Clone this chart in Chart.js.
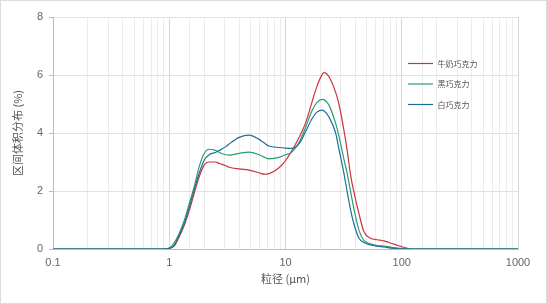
<!DOCTYPE html>
<html>
<head>
<meta charset="utf-8">
<script src="https://cdn.jsdelivr.net/npm/chart.js@4"></script>
<style>
  html, body { margin: 0; padding: 0; background: #fff; }
  #wrap { position: relative; width: 547px; height: 304px; }
  canvas { display: block; }
</style>
</head>
<body>
<div id="wrap"><canvas id="c" width="547" height="304"></canvas></div>
<script>
// Particle size (µm)
const sizes = [0.1, 0.5, 0.9, 1.0, 1.1, 1.22, 1.35, 1.49, 1.64, 1.81, 2.0, 2.2, 2.5, 2.7, 3.07, 3.27, 4.0, 4.86, 5.92, 6.54, 7.22, 8.8, 10.0, 11.4, 13.1, 14.9, 17.0, 18.6, 20.7, 21.4, 23.6, 27.0, 28.8, 31.8, 33.9, 36.3, 38.7, 42.8, 47.2, 53.9, 61.4, 70, 85.4, 104, 122, 200, 1000];
// 牛奶巧克力
const milk  = [0, 0, 0, 0.02, 0.10, 0.43, 0.83, 1.34, 1.92, 2.49, 2.90, 3.00, 3.00, 2.95, 2.87, 2.82, 2.76, 2.72, 2.63, 2.58, 2.60, 2.80, 3.05, 3.40, 3.85, 4.35, 5.10, 5.60, 6.02, 6.08, 5.95, 5.40, 5.00, 4.10, 3.41, 2.55, 1.98, 1.23, 0.60, 0.37, 0.32, 0.28, 0.17, 0.06, 0, 0, 0];
// 黑巧克力
const dark  = [0, 0, 0, 0.03, 0.20, 0.54, 1.00, 1.58, 2.15, 2.84, 3.30, 3.44, 3.40, 3.33, 3.25, 3.24, 3.30, 3.34, 3.25, 3.17, 3.11, 3.16, 3.25, 3.35, 3.68, 4.20, 4.79, 5.05, 5.16, 5.15, 4.97, 4.33, 3.90, 3.10, 2.61, 1.98, 1.40, 0.65, 0.30, 0.18, 0.12, 0.10, 0.05, 0.01, 0, 0, 0];
// 白巧克力
const white = [0, 0, 0, 0.02, 0.12, 0.48, 0.90, 1.45, 2.05, 2.61, 3.07, 3.25, 3.33, 3.40, 3.53, 3.62, 3.85, 3.93, 3.78, 3.66, 3.55, 3.50, 3.48, 3.47, 3.63, 4.05, 4.51, 4.72, 4.79, 4.77, 4.56, 4.00, 3.45, 2.61, 1.98, 1.35, 0.88, 0.38, 0.22, 0.14, 0.10, 0.07, 0.02, 0, 0, 0, 0];

const seriesNames = ['牛奶巧克力', '黑巧克力', '白巧克力'];
const seriesColors = ['#cc3340', '#2a9d6e', '#1f6e9a'];
const xTickLabels = ['0.1', '1', '10', '100', '1000'];
const yTicks = [0, 2, 4, 6, 8];

const toPts = arr => sizes.map((s, i) => ({ x: s, y: arr[i] }));
const allSeries = [milk, dark, white];

const isPow10 = v => Math.abs(Math.log10(v) - Math.round(Math.log10(v))) < 1e-6;

const legendPlugin = {
  id: 'customLegend',
  afterDatasetsDraw(chart) {
    const ctx = chart.ctx;
    ctx.save();
    const ys = [63.5, 84, 104.5];
    chart.data.datasets.forEach((ds, i) => {
      ctx.strokeStyle = ds.borderColor;
      ctx.lineWidth = 1.2;
      ctx.beginPath();
      ctx.moveTo(408, ys[i]);
      ctx.lineTo(433, ys[i]);
      ctx.stroke();
      ctx.fillStyle = '#555';
      ctx.font = '8px "Noto Sans CJK SC", sans-serif';
      ctx.textBaseline = 'middle';
      ctx.textAlign = 'left';
      ctx.fillText(ds.label, 437.5, ys[i]);
    });
    ctx.restore();
  },
  afterDraw(chart) {
    const ctx = chart.ctx;
    ctx.save();
    ctx.strokeStyle = '#dcdcdc';
    ctx.lineWidth = 1;
    ctx.strokeRect(0.5, 0.5, chart.width - 1, chart.height - 1);
    ctx.restore();
  }
};

new Chart(document.getElementById('c'), {
  type: 'line',
  data: {
    datasets: allSeries.map((arr, i) => ({
      label: seriesNames[i],
      data: toPts(arr),
      borderColor: seriesColors[i],
      backgroundColor: seriesColors[i],
      borderWidth: 1.2,
      pointRadius: 0,
      fill: false,
      cubicInterpolationMode: 'monotone',
      order: 2 - i
    }))
  },
  options: {
    responsive: false,
    animation: false,
    devicePixelRatio: 1,
    layout: { padding: { left: 0, right: 29, top: 17, bottom: 0 } },
    plugins: { legend: { display: false }, tooltip: { enabled: false } },
    scales: {
      x: {
        type: 'logarithmic',
        min: 0.1,
        max: 1000,
        afterFit(axis) { axis.height = 55; },
        border: { display: true, color: '#bbb' },
        grid: {
          drawTicks: false,
          color: ctx => (ctx.tick && isPow10(ctx.tick.value)) ? '#d6d6d6' : '#ececec',
          lineWidth: 1
        },
        ticks: {
          autoSkip: false,
          maxRotation: 0,
          padding: 7,
          color: '#666',
          font: { family: 'Liberation Sans, Arial, sans-serif', size: 11 },
          callback: function (v) {
            if (!isPow10(v)) return '';
            const s = String(Number(v.toPrecision(3)));
            return xTickLabels.includes(s) ? s : '';
          }
        },
        title: {
          display: true,
          text: '粒径 (μm)',
          color: '#555',
          font: { family: '"Noto Sans CJK SC", sans-serif', size: 11 },
          padding: { top: 0, bottom: 19 }
        }
      },
      y: {
        min: 0,
        max: 8,
        afterFit(axis) { axis.width = 53; },
        afterBuildTicks(axis) { axis.ticks = yTicks.map(v => ({ value: v })); },
        border: { display: true, color: '#bbb' },
        grid: {
          color: '#e2e2e2',
          tickLength: 4,
          tickColor: '#bbb'
        },
        ticks: {
          padding: 6,
          color: '#666',
          font: { family: 'Liberation Sans, Arial, sans-serif', size: 11 }
        },
        title: {
          display: true,
          text: '区间体积分布 (%)',
          color: '#555',
          font: { family: '"Noto Sans CJK SC", sans-serif', size: 11 },
          padding: { top: 11, bottom: 0 }
        }
      }
    }
  },
  plugins: [legendPlugin]
});
</script>
</body>
</html>
